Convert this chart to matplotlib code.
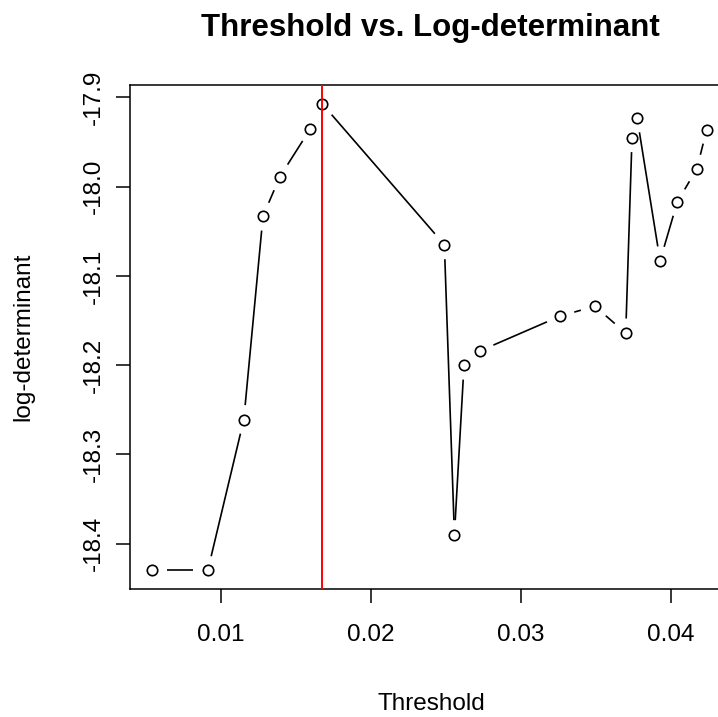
import numpy as np
import matplotlib
matplotlib.use("Agg")
import matplotlib.pyplot as plt
from matplotlib.collections import LineCollection

# values
threshold = [0.00541, 0.00913, 0.01153, 0.01281, 0.01393, 0.01597, 0.01675,
             0.02490, 0.02557, 0.02621, 0.02728, 0.03263, 0.03493, 0.03699,
             0.03741, 0.03775, 0.03928, 0.04043, 0.04173, 0.04239]
logdet = [-18.430, -18.430, -18.261, -18.033, -17.989, -17.935, -17.907,
          -18.065, -18.390, -18.200, -18.184, -18.145, -18.134, -18.164,
          -17.945, -17.923, -18.083, -18.017, -17.980, -17.936]
xticks = [0.01, 0.02, 0.03, 0.04]
yticks = [-18.4, -18.3, -18.2, -18.1, -18.0, -17.9]

plt.rcParams['font.family'] = ['Liberation Sans', 'DejaVu Sans']

fig = plt.figure(figsize=(7.18, 7.17), dpi=100)
ax = fig.add_axes([0.1808, 0.1785, 0.8344, 0.7029])

xs = np.array(threshold)
ys = np.array(logdet)
# R style 4% padding
xpad = 0.04 * (xs.max() - xs.min())
ypad = 0.04 * (ys.max() - ys.min())
ax.set_xlim(xs.min() - xpad, xs.max() + xpad)
ax.set_ylim(ys.min() - ypad, ys.max() + ypad)

# type="b": lines with gaps around the points
pts = ax.transData.transform(np.column_stack([xs, ys]))
inv = ax.transData.inverted()
gap = 14.5
segs = []
for p, q in zip(pts[:-1], pts[1:]):
    d = q - p
    L = np.hypot(d[0], d[1])
    if L > 2 * gap:
        u = d / L
        segs.append(inv.transform(np.array([p + u * gap, q - u * gap])))
ax.add_collection(LineCollection(segs, colors='black', linewidths=1.2))
ax.plot(xs, ys, 'o', mfc='none', mec='black', ms=7.5, mew=1.2, zorder=3)

ax.axvline(xs[np.argmax(ys)], color='red', lw=1.4, zorder=4)

ax.set_xticks(xticks)
ax.set_xticklabels([f"{v:.2f}" for v in xticks])
ax.set_yticks(yticks)
ax.set_yticklabels([f"{v:.1f}" for v in yticks], rotation=90, va='center')
ax.tick_params(direction='out', length=10, width=1.1, labelsize=17.5, color='black')
ax.tick_params(axis='x', pad=15)
ax.tick_params(axis='y', pad=8)
for s in ax.spines.values():
    s.set_linewidth(1.1)

fig.text(0.599, 1 - 36 / 717, "Threshold vs. Log-determinant", ha='center', va='baseline',
         fontsize=22.5, fontweight='bold')
fig.text(0.601, 1 - 710 / 717, "Threshold", ha='center', va='baseline', fontsize=17.5)
fig.text(23.5 / 718, 1 - 337 / 717, "log-determinant", ha='center', va='center',
         rotation=90, fontsize=17.5)

fig.savefig("out.png", dpi=100)
